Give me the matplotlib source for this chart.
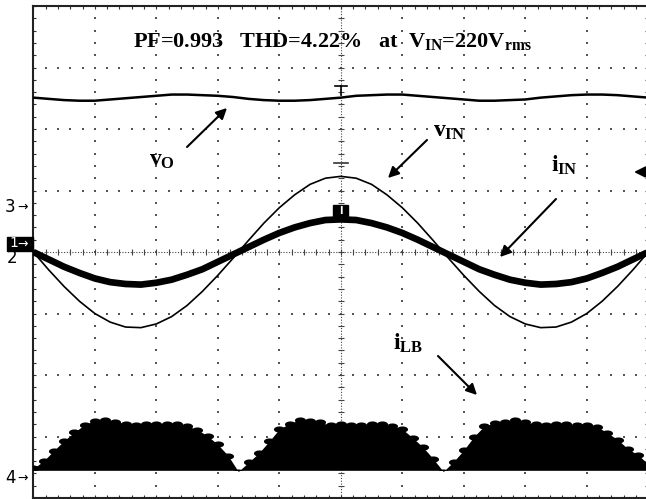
import numpy as np
import matplotlib.pyplot as plt
from matplotlib.patches import Rectangle
from matplotlib.path import Path

plt.rcParams['mathtext.fontset'] = 'custom'
plt.rcParams['mathtext.rm'] = 'Liberation Serif:bold'
plt.rcParams['mathtext.it'] = 'Liberation Serif:bold'
plt.rcParams['mathtext.bf'] = 'Liberation Serif:bold'

## traces, in divisions, one sample every 0.25 div
t_div = np.linspace(-5, 5, 41)
v_in = [0.00, -0.29, -0.56, -0.80, -1.00, -1.14, -1.22, -1.23, -1.17, -1.05,
        -0.87, -0.64, -0.38, -0.10, 0.19, 0.47, 0.72, 0.93, 1.10, 1.20,
        1.23, 1.20, 1.10, 0.93, 0.72, 0.47, 0.19, -0.10, -0.38, -0.64,
        -0.87, -1.05, -1.17, -1.23, -1.22, -1.14, -1.00, -0.80, -0.56, -0.29, 0.00]
i_in = [0.00, -0.12, -0.24, -0.34, -0.43, -0.49, -0.52, -0.53, -0.50, -0.45,
        -0.37, -0.28, -0.16, -0.04, 0.08, 0.20, 0.31, 0.40, 0.47, 0.52,
        0.53, 0.52, 0.47, 0.40, 0.31, 0.20, 0.08, -0.04, -0.16, -0.28,
        -0.37, -0.45, -0.50, -0.53, -0.52, -0.49, -0.43, -0.34, -0.24, -0.12, 0.00]
v_o = [2.51, 2.49, 2.47, 2.46, 2.46, 2.48, 2.50, 2.52, 2.54, 2.56,
       2.56, 2.55, 2.54, 2.52, 2.49, 2.47, 2.46, 2.46, 2.47, 2.49,
       2.51, 2.54, 2.55, 2.56, 2.56, 2.54, 2.52, 2.50, 2.48, 2.46,
       2.46, 2.47, 2.48, 2.51, 2.53, 2.55, 2.56, 2.56, 2.55, 2.53, 2.51]

## boost inductor current, height above its level, one sample every 1/6 div
t_lb = np.linspace(-5, 5, 61)
i_lb = [0.08, 0.20, 0.37, 0.53, 0.67, 0.79, 0.86, 0.87, 0.84, 0.81,
        0.79, 0.80, 0.81, 0.81, 0.80, 0.77, 0.71, 0.61, 0.47, 0.29,
        0.03, 0.18, 0.33, 0.52, 0.72, 0.81, 0.87, 0.86, 0.83, 0.78,
        0.80, 0.78, 0.79, 0.81, 0.80, 0.77, 0.72, 0.58, 0.43, 0.24,
        0.03, 0.19, 0.38, 0.60, 0.77, 0.82, 0.84, 0.87, 0.83, 0.80,
        0.79, 0.80, 0.80, 0.79, 0.79, 0.76, 0.66, 0.55, 0.40, 0.30, 0.15]
lb_level = -3.55

title = r'PF=0.993   THD=4.22%   at  $V_{IN}$=220V$_{\mathregular{rms}}$'

W, H = 646, 499
fig = plt.figure(figsize=(W/100, H/100), dpi=100)
ax = fig.add_axes([33.3/W, 1/H, 615/W, 492/H])
ax.set_xlim(-5, 5)
ax.set_ylim(-4, 4)

def P(x, y):
    ## picture pixel -> screen divisions
    return ((x - 340.8)/61.5, (252 - y)/61.5)

## graticule
for k in range(-4, 5):
    if k != 0:
        xs = np.arange(-5, 5.01, 0.2)
        ax.scatter(xs, np.full(len(xs), k), s=2.5, marker='s', c='#555', lw=0, zorder=1)
for k in range(-5, 6):
    if k != 0:
        ys = np.arange(-4, 4.01, 0.2)
        ax.scatter(np.full(len(ys), k), ys, s=2.5, marker='s', c='#555', lw=0, zorder=1)
ax.axvline(0, ls=(0, (1, 1.5)), lw=0.8, color='#444', zorder=1)
ax.axhline(0, ls=(0, (1, 1.5)), lw=0.8, color='#444', zorder=1)
yt = np.arange(-4, 4.01, 0.2)
xt = np.arange(-5, 5.01, 0.2)
ax.scatter(np.zeros(len(yt)), yt, marker='_', s=20, c='#444', lw=0.8, zorder=1)
ax.scatter(xt, np.zeros(len(xt)), marker='|', s=20, c='#444', lw=0.8, zorder=1)

ax.set_xticks(np.arange(-5, 5.01, 1))
ax.set_yticks(np.arange(-4, 4.01, 1))
ax.set_xticks(np.arange(-5, 5.01, 0.2), minor=True)
ax.set_yticks(np.arange(-4, 4.01, 0.2), minor=True)
ax.tick_params(which='both', direction='in', length=2.5, width=0.8, color='#333',
               top=True, right=True, labelbottom=False, labelleft=False)
for s in ax.spines.values():
    s.set_linewidth(1.5)
    s.set_color('#222')

## traces
ax.plot(t_div, v_o, color='black', lw=1.8, zorder=3)
ax.plot(t_div, v_in, color='black', lw=1.2, zorder=3)
ax.plot(t_div, i_in, color='black', lw=4.8, solid_capstyle='butt', zorder=3)

## switching ripple on i_LB: a flat bump at every sample
th = np.linspace(0, 2*np.pi, 40)
bump = Path(np.column_stack([np.cos(th), 0.55*np.sin(th)]))
lb_top = lb_level + np.array(i_lb)
ax.fill_between(t_lb, lb_level, lb_top - 0.05, color='black', lw=0, zorder=3)
sc = ax.scatter(t_lb, lb_top - 0.05, s=64, marker=bump, c='black', lw=0, zorder=3)
sc.set_clip_path(Rectangle((-5, lb_level), 10, 2, transform=ax.transData))

## cursors at centre
ax.plot(*zip(P(335, 86), P(347, 86)), color='black', lw=1.2, zorder=4)
ax.plot(*zip(P(341, 86), P(341, 95)), color='black', lw=1.2, zorder=4)
ax.plot(*zip(P(334, 163), P(348, 163)), color='#333', lw=1.2, zorder=4)
x0, y0 = P(333, 217)
ax.add_patch(Rectangle((x0, y0), 15/61.5, 12/61.5, color='black', zorder=5))
ax.text(*P(341, 211), 'I', color='white', fontsize=7, fontweight='bold',
        ha='center', va='center', zorder=6)

## labels and arrows
tfont = dict(family='Liberation Serif', fontweight='bold', color='black')
ax.text(*P(133, 47), title, fontsize=16, ha='left', va='baseline', **tfont)
ax.text(*P(149, 166), r'$v_{O}$', fontsize=17, ha='left', va='baseline', **tfont)
ax.text(*P(433, 137), r'$v_{IN}$', fontsize=17, ha='left', va='baseline', **tfont)
ax.text(*P(551, 172), r'$i_{IN}$', fontsize=17, ha='left', va='baseline', **tfont)
ax.text(*P(393, 350), r'$i_{LB}$', fontsize=17, ha='left', va='baseline', **tfont)

arw = dict(arrowstyle='-|>', lw=1.5, color='black', mutation_scale=16, shrinkA=0, shrinkB=0)
ax.annotate('', xy=P(227, 108), xytext=P(187, 147), arrowprops=arw)
ax.annotate('', xy=P(388, 178), xytext=P(427, 140), arrowprops=arw)
ax.annotate('', xy=P(500, 257), xytext=P(556, 199), arrowprops=arw)
ax.annotate('', xy=P(477, 395), xytext=P(438, 356), arrowprops=arw)
ax.annotate('', xy=P(634, 172), xytext=P(648, 172), arrowprops=arw, annotation_clip=False)

## channel markers on the left
mfont = dict(family='DejaVu Sans', color='black', fontsize=12, va='center', ha='left')
ax.text(*P(5, 207), '3', **mfont)
ax.text(*P(17, 207), '→', family='DejaVu Sans', fontsize=9, va='center', ha='left')
ax.text(*P(5, 478), '4', **mfont)
ax.text(*P(17, 478), '→', family='DejaVu Sans', fontsize=9, va='center', ha='left')
bx, by = P(7, 251)
ax.add_patch(Rectangle((bx, by), 26/61.5, 14/61.5, color='black', clip_on=False, zorder=5))
ax.text(*P(9, 243), '1', color='white', family='DejaVu Sans', fontsize=10,
        va='center', ha='left', zorder=6)
ax.text(*P(17, 244), '→', color='white', family='DejaVu Sans', fontsize=9,
        va='center', ha='left', zorder=6)
ax.text(*P(7, 258), '2', **mfont)

fig.savefig('out.png', dpi=100)
